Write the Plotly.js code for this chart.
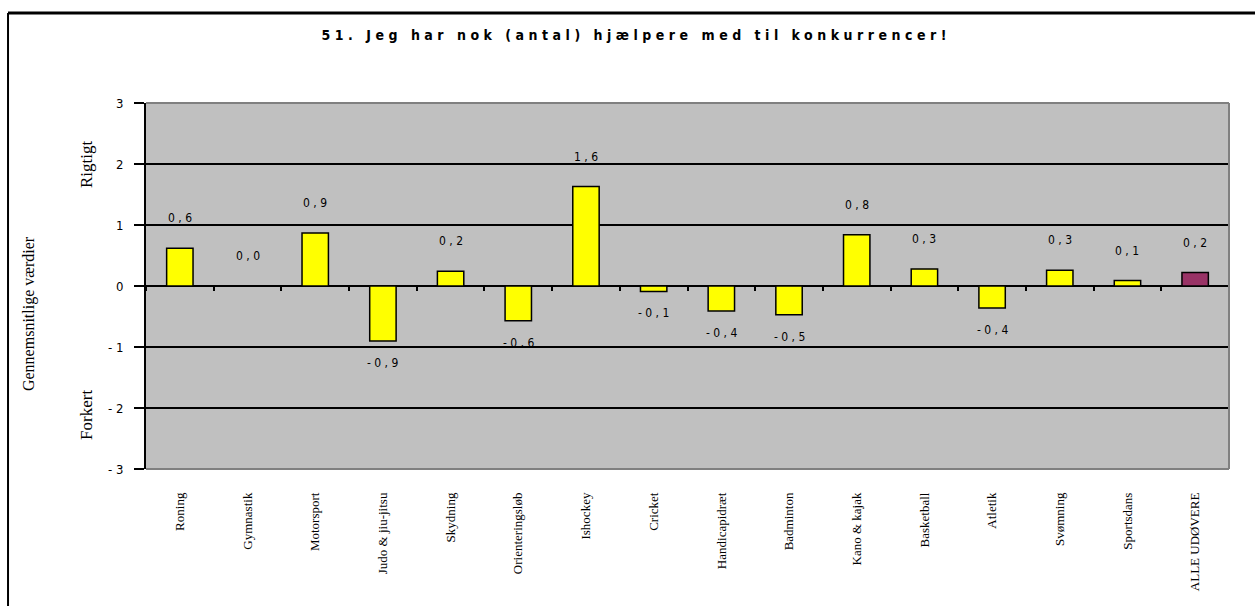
<!DOCTYPE html>
<html>
<head>
<meta charset="utf-8">
<script src="https://cdn.plot.ly/plotly-3.0.1.min.js"></script>
<style>
  html, body { margin: 0; padding: 0; background: #ffffff; }
  #chart { width: 1255px; height: 606px; }
  .gtitle { letter-spacing: 4.5px; }
</style>
</head>
<body>
<div id="chart"></div>
<script>
// ---- data ----
const categories = ['Roning', 'Gymnastik', 'Motorsport', 'Judo & jiu-jitsu', 'Skydning',
  'Orienteringsløb', 'Ishockey', 'Cricket', 'Handicapidræt', 'Badminton', 'Kano & kajak',
  'Basketball', 'Atletik', 'Svømning', 'Sportsdans', 'ALLE UDØVERE'];
const values = [0.62, 0.0, 0.87, -0.90, 0.24, -0.57, 1.63, -0.09, -0.41, -0.47, 0.84,
  0.28, -0.36, 0.26, 0.09, 0.22];
const yTickValues = [-3, -2, -1, 0, 1, 2, 3];
const yTickLabels = ['- 3', '- 2', '- 1', '0', '1', '2', '3'];
const titleText = '51. Jeg har nok (antal) hjælpere med til konkurrencer!';
const yTitleText = 'Gennemsnitlige værdier';
const upperText = 'Rigtigt';
const lowerText = 'Forkert';

// ---- styling ----
const narrow = "'DejaVu Sans Condensed', 'Liberation Sans', Arial, sans-serif";
const serif = "'Liberation Serif', 'Times New Roman', serif";
const barColors = categories.map((c, i) => i === categories.length - 1 ? '#993366' : '#FFFF00');

function fmt(v) {
  return v.toFixed(1).replace('.', ',').split('').join(' ');
}

const trace = {
  type: 'bar',
  x: categories,
  y: values,
  marker: { color: barColors, line: { color: '#000000', width: 1.5 } },
  hoverinfo: 'x+y'
};

const labelAnnotations = categories.map((c, i) => ({
  x: c, y: values[i], xref: 'x', yref: 'y',
  text: fmt(values[i]),
  showarrow: false,
  xanchor: 'center', yanchor: 'middle',
  yshift: values[i] >= 0 ? 30 : -22,
  font: { family: narrow, size: 12, color: '#000000' }
}));

const sideAnnotations = [
  { text: yTitleText, xref: 'paper', yref: 'paper', x: -0.108, y: 0.4235, textangle: -90,
    xanchor: 'center', yanchor: 'middle',
    showarrow: false, font: { family: serif, size: 16, color: '#000' } },
  { text: upperText, xref: 'paper', yref: 'paper', x: -0.0555, y: 0.833, textangle: -90,
    xanchor: 'center', yanchor: 'middle',
    showarrow: false, font: { family: serif, size: 17, color: '#000' } },
  { text: lowerText, xref: 'paper', yref: 'paper', x: -0.0555, y: 0.1475, textangle: -90,
    xanchor: 'center', yanchor: 'middle',
    showarrow: false, font: { family: serif, size: 17, color: '#000' } }
];

const frameColor = '#808080';
const layout = {
  width: 1255, height: 606,
  margin: { l: 146, r: 26, t: 103, b: 137 },
  paper_bgcolor: '#ffffff',
  plot_bgcolor: '#C0C0C0',
  showlegend: false,
  bargap: 0.61,
  title: {
    text: '<b>' + titleText + '</b>',
    xref: 'container', x: 0.507, xanchor: 'center',
    yref: 'container', y: 0.942, yanchor: 'middle',
    font: { family: narrow, size: 14, color: '#000' }
  },
  xaxis: {
    type: 'category',
    anchor: 'free', position: 0.5,
    showline: false, showgrid: false, zeroline: false,
    ticks: 'outside', tickson: 'boundaries', ticklen: 4, tickwidth: 2, tickcolor: '#000',
    tickangle: -90,
    ticklabelstandoff: 203,
    tickfont: { family: serif, size: 13, color: '#000' },
    automargin: false
  },
  yaxis: {
    range: [-3, 3],
    tickvals: yTickValues, ticktext: yTickLabels,
    showline: true, linecolor: '#000', linewidth: 2,
    ticks: 'outside', ticklen: 10, tickwidth: 2, tickcolor: '#000',
    ticklabelstandoff: 8,
    showgrid: true, gridcolor: '#000', gridwidth: 2,
    zeroline: true, zerolinecolor: '#000', zerolinewidth: 2,
    tickfont: { family: narrow, size: 13, color: '#000' },
    automargin: false
  },
  shapes: [
    { type: 'line', xref: 'paper', yref: 'paper', x0: 0, x1: 1, y0: 1, y1: 1,
      line: { color: frameColor, width: 2 }, layer: 'above' },
    { type: 'line', xref: 'paper', yref: 'paper', x0: 1, x1: 1, y0: 0, y1: 1,
      line: { color: frameColor, width: 2 }, layer: 'above' },
    { type: 'line', xref: 'paper', yref: 'paper', x0: 0, x1: 1, y0: 0, y1: 0,
      line: { color: frameColor, width: 2 }, layer: 'above' },
    { type: 'line', xref: 'paper', yref: 'paper', x0: -0.1274, x1: 1.2, y0: 1.2459, y1: 1.2459,
      line: { color: '#000', width: 3 }, layer: 'above' },
    { type: 'line', xref: 'paper', yref: 'paper', x0: -0.1274, x1: -0.1274, y0: -0.5, y1: 1.2459,
      line: { color: '#000', width: 2 }, layer: 'above' }
  ],
  annotations: labelAnnotations.concat(sideAnnotations)
};

Plotly.newPlot('chart', [trace], layout, { displayModeBar: false, staticPlot: true });
</script>
</body>
</html>
